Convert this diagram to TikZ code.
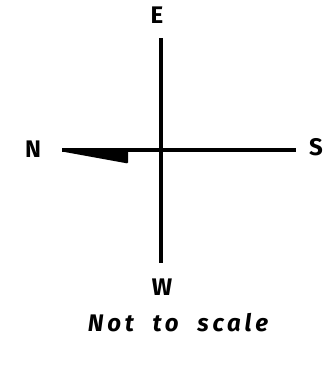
\documentclass[tikz,border=0pt]{standalone}
\usepackage{fontspec}
\setsansfont{Fira Sans}
\usepackage{tikz}
\usetikzlibrary{positioning}

\begin{document}
\begin{tikzpicture}[x=1pt,y=-1pt,
  axis/.style={line width=3.4pt},
  pt/.style={font=\sffamily\bfseries\fontsize{24}{26}\selectfont,inner sep=0pt},
  note/.style={font=\sffamily\bfseries\itshape\fontsize{24}{26}\selectfont,inner sep=0pt}]
  \useasboundingbox (0,0) rectangle (331,367);
  % ends of the two arms
  \coordinate (top) at (161,38);
  \coordinate (bot) at (161,263);
  \coordinate (lft) at (62,150);
  \coordinate (rgt) at (296,150);
  \node[pt] (E) at (157,15) {E};
  \node[pt] (W) at (162,287) {W};
  \node[pt] (N) at (33,149) {N};
  \node[pt] (S) at (316,147) {S};
  \draw[axis] (top) -- (bot);
  \draw[axis] (lft) -- (rgt);
  % the wedge on the north arm
  \fill[rounded corners=1pt] (62,148.5) -- (128,148.5) -- (128,163.5) -- (62,151.5) -- cycle;
  \node[note] (scale) at (178,323) {\addfontfeature{LetterSpace=16}Not\ \ to\ \ scale};
\end{tikzpicture}
\end{document}
